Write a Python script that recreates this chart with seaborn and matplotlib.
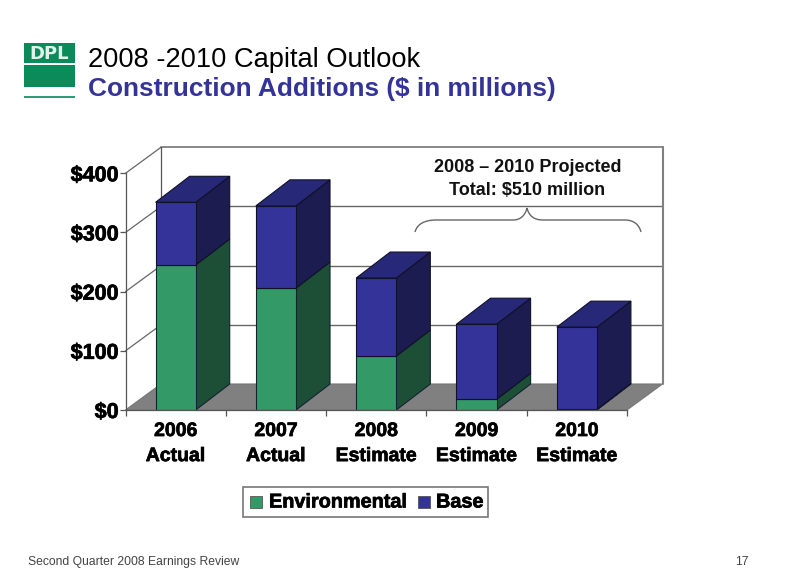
#!/usr/bin/env python3
import numpy as np
import pandas as pd
import matplotlib
matplotlib.use('Agg')
import matplotlib.pyplot as plt
import matplotlib.patheffects as pe
from matplotlib.patches import Polygon, Rectangle, PathPatch
from matplotlib.path import Path
import seaborn as sns

categories = ['2006\nActual', '2007\nActual', '2008\nEstimate', '2009\nEstimate', '2010\nEstimate']
environmental = [245, 206, 91, 18, 1]
base = [106, 139, 132, 127, 139]
y_ticks = [0, 100, 200, 300, 400]
y_labels = ['$0', '$100', '$200', '$300', '$400']

GREEN = '#339966'
GREEN_SIDE = '#1d4f36'
BLUE = '#333399'
BLUE_TOP = '#282878'
BLUE_SIDE = '#1c1c50'
EDGE = '#10102a'

sns.set_theme(style='white')
plt.rcParams['font.family'] = ['Liberation Sans', 'DejaVu Sans']

W, H = 805, 587
fig = plt.figure(figsize=(W / 100, H / 100), dpi=100, facecolor='white')
heavy = [pe.withStroke(linewidth=0.5, foreground='black')]

# axes = front plane of the 3d box
ax = fig.add_axes([125.5 / W, 1 - 410 / H, (627 - 125.5) / W, (410 - 173.3) / H])
ax.set_facecolor('none')

df = pd.DataFrame({'cat': categories, 'Environmental': environmental, 'Base': base})
sns.barplot(data=df, x='cat', y='Environmental', color=GREEN, width=0.4, saturation=1,
            edgecolor='#123', linewidth=0.8, ax=ax, zorder=5)
sns.barplot(data=df, x='cat', y='Base', bottom=df['Environmental'], color=BLUE, width=0.4, saturation=1,
            edgecolor=EDGE, linewidth=0.8, ax=ax, zorder=5)
ax.set_xlim(-0.5, 4.5)
ax.set_ylim(0, 400)

# depth of the box in data units
dx = 35.5 / (627 - 125.5) * 5
dy = 26 / (410 - 173.3) * 400
bar_dx = 34 / (627 - 125.5) * 5
x0, x1 = ax.get_xlim()

# floor and walls
ax.add_patch(Polygon([(x0, 0), (x1, 0), (x1 + dx, dy), (x0 + dx, dy)], closed=True,
                     fc='#808080', ec='#777777', lw=0.8, clip_on=False, zorder=1))
wall_col = '#666666'
for v in y_ticks[1:-1]:
    ax.plot([x0 + dx, x1 + dx], [v + dy, v + dy], color=wall_col, lw=1, clip_on=False, zorder=1)
ax.plot([x0 + dx, x1 + dx], [400 + dy, 400 + dy], color='#808080', lw=1.3, clip_on=False, zorder=1)
for v in y_ticks[1:]:
    ax.plot([x0, x0 + dx], [v, v + dy], color=wall_col, lw=0.9, clip_on=False, zorder=1)
ax.plot([x0 + dx, x0 + dx], [dy, 400 + dy], color='#555555', lw=0.9, clip_on=False, zorder=1)
ax.plot([x1 + dx, x1 + dx], [dy, 400 + dy], color='#808080', lw=1.5, clip_on=False, zorder=1)

# sides and tops of the bars
for i in range(len(categories)):
    left = i - 0.2
    right = i + 0.2
    e = environmental[i]
    t = e + base[i]
    ax.add_patch(Polygon([(right, 0), (right + bar_dx, dy), (right + bar_dx, e + dy), (right, e)],
                         closed=True, fc=GREEN_SIDE, ec='#123', lw=0.8, clip_on=False, zorder=4))
    ax.add_patch(Polygon([(right, e), (right + bar_dx, e + dy), (right + bar_dx, t + dy), (right, t)],
                         closed=True, fc=BLUE_SIDE, ec=EDGE, lw=0.8, clip_on=False, zorder=4))
    ax.add_patch(Polygon([(left, t), (left + bar_dx, t + dy), (right + bar_dx, t + dy), (right, t)],
                         closed=True, fc=BLUE_TOP, ec=EDGE, lw=0.8, clip_on=False, zorder=4))

# axis
sns.despine(ax=ax, top=True, right=True)
for s in ['left', 'bottom']:
    ax.spines[s].set_color('#555555')
    ax.spines[s].set_linewidth(0.9)
    ax.spines[s].set_zorder(6)
ax.set_xlabel('')
ax.set_ylabel('')
ax.set_yticks(y_ticks)
ax.set_yticklabels(y_labels, fontsize=15.5, fontweight='bold', color='black', path_effects=heavy)
ax.set_xticks(np.arange(-0.5, 5, 1), minor=False)
ax.set_xticklabels([])
ax.tick_params(axis='both', length=4, width=0.9, color='#555555', left=True, bottom=True, pad=1)
for i, c in enumerate(categories):
    ax.text(i, -22, c, ha='center', va='top', fontsize=14, fontweight='bold', color='black',
            linespacing=1.62, clip_on=False, path_effects=heavy)

# annotation text and brace, pixel coords
ov = fig.add_axes([0, 0, 1, 1], zorder=10)
ov.set_xlim(0, W)
ov.set_ylim(H, 0)
ov.axis('off')
ov.text(527.5, 179, '2008 – 2010 Projected\nTotal: $510 million', ha='center', va='center',
        fontsize=13, fontweight='bold', color='#111111', linespacing=1.4)
verts = [(415, 232), (417, 224), (425, 220), (436, 220),
         (513, 220),
         (520, 220), (525, 216), (527, 208),
         (529, 216), (534, 220), (543, 220),
         (625, 220),
         (633, 220), (639, 224), (641, 232)]
codes = [Path.MOVETO, Path.CURVE4, Path.CURVE4, Path.CURVE4,
         Path.LINETO,
         Path.CURVE4, Path.CURVE4, Path.CURVE4,
         Path.CURVE4, Path.CURVE4, Path.CURVE4,
         Path.LINETO,
         Path.CURVE4, Path.CURVE4, Path.CURVE4]
ov.add_patch(PathPatch(Path(verts, codes), fc='none', ec='#666666', lw=1))

# logo
LOGO = '#0b8a5a'
ov.add_patch(Rectangle((24, 42.7), 50.5, 44, fc=LOGO, ec='none'))
ov.add_patch(Rectangle((24, 62.5), 50.5, 2.5, fc='white', ec='none'))
ov.add_patch(Rectangle((24, 96), 50.5, 1.5, fc='#2f9c74', ec='none'))
ov.text(49.5, 54, 'DPL', ha='center', va='center', fontsize=13, fontweight='bold', color='#e0f2ea',
        family='DejaVu Sans')

# titles
ov.text(88, 60, '2008 -2010 Capital Outlook', ha='left', va='center', fontsize=19.6, color='black')
ov.text(88, 89, 'Construction Additions ($ in millions)', ha='left', va='center', fontsize=18.9,
        fontweight='bold', color=BLUE)

# footer
ov.text(28, 562, 'Second Quarter 2008 Earnings Review', ha='left', va='center', fontsize=8.7, color='#444444')
ov.text(749, 562, '17', ha='right', va='center', fontsize=8.7, color='#444444')

# legend
ov.add_patch(Rectangle((243, 487), 245, 30, fc='white', ec='#777777', lw=1.2))
ov.add_patch(Rectangle((250, 496), 12, 12, fc=GREEN, ec='#444444', lw=0.5))
ov.add_patch(Rectangle((418, 496), 12, 12, fc=BLUE, ec='#444444', lw=0.5))
ov.text(269, 502, 'Environmental', ha='left', va='center', fontsize=14.3, fontweight='bold', color='black',
        path_effects=heavy)
ov.text(436, 502, 'Base', ha='left', va='center', fontsize=14.3, fontweight='bold', color='black',
        path_effects=heavy)

fig.savefig('out.png', dpi=100)
